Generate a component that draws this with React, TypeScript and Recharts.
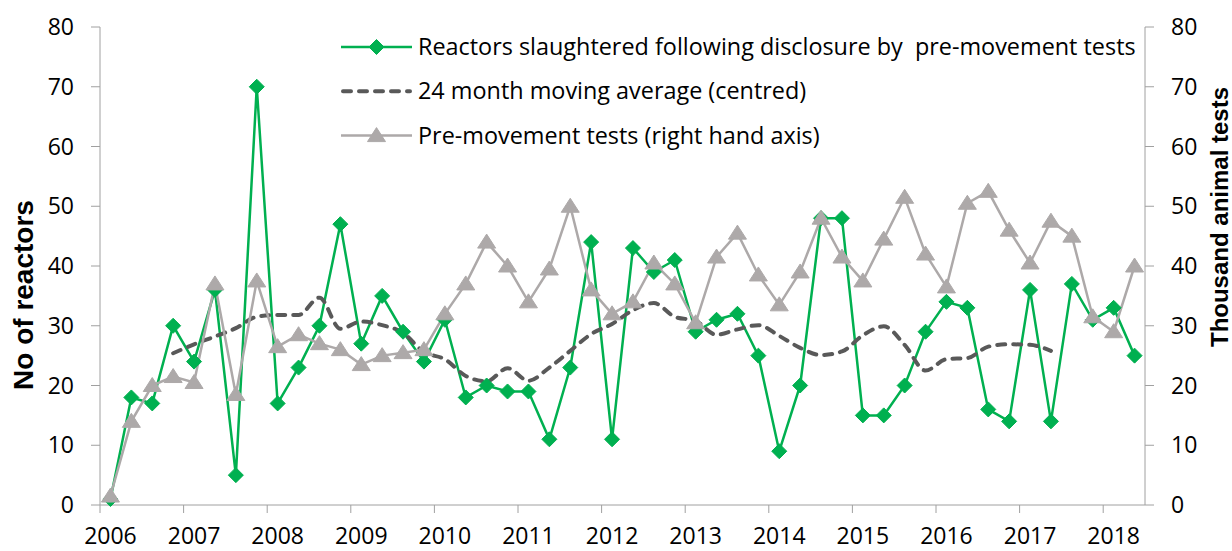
/**
 * App.tsx
 *
 * Reactors slaughtered after pre-movement tests (left axis), its 24 month
 * centred moving average, and pre-movement test volume (right axis).
 * Quarterly points, 2006 – mid 2018.
 */
import React from 'react'
import { LineChart, Line, XAxis, YAxis, Legend } from 'recharts'

document.body.style.margin = '0'

// ── Data ──────────────────────────────────────────────────────────────────────
const years = ['2006', '2007', '2008', '2009', '2010', '2011', '2012',
  '2013', '2014', '2015', '2016', '2017', '2018']

const quarters = years
  .flatMap(y => ['Q1', 'Q2', 'Q3', 'Q4'].map(q => `${y} ${q}`))
  .slice(0, 50)

// No of reactors (left axis)
const reactors = [
  1, 18, 17, 30, 24, 36, 5, 70, 17, 23,
  30, 47, 27, 35, 29, 24, 31, 18, 20, 19,
  19, 11, 23, 44, 11, 43, 39, 41, 29, 31,
  32, 25, 9, 20, 48, 48, 15, 15, 20, 29,
  34, 33, 16, 14, 36, 14, 37, 31, 33, 25,
]

// 24 month moving average (centred), left axis
const movingAvg: (number | null)[] = [
  null, null, null, 25.4, 26.9, 28.2, 29.6, 31.5, 31.8, 31.8,
  34.7, 29.5, 30.7, 30.1, 28.8, 25.6, 24.4, 21.6, 20.7, 22.9,
  20.8, 23.0, 25.8, 28.6, 30.3, 32.6, 33.8, 31.5, 30.8, 28.5,
  29.4, 30.1, 28.3, 26.3, 25.1, 25.7, 28.4, 29.9, 26.8, 22.5,
  24.4, 24.6, 26.5, 26.9, 26.8, 25.8, null, null, null, null,
]

// Pre-movement tests, thousand animal tests (right axis)
const tests = [
  1.5, 14, 20, 21.5, 20.5, 37, 18.5, 37.5, 26.5, 28.5,
  27, 26, 23.5, 25, 25.5, 26, 32, 37, 44, 40,
  34, 39.5, 50, 36, 32, 34, 40.5, 37, 30.5, 41.5,
  45.5, 38.5, 33.5, 39, 48, 41.5, 37.5, 44.5, 51.5, 42,
  36.5, 50.5, 52.5, 46, 40.5, 47.5, 45, 31.5, 29, 40,
]

const yTicks = [0, 10, 20, 30, 40, 50, 60, 70, 80]

const data = quarters.map((q, i) => ({
  idx: i,
  quarter: q,
  reactors: reactors[i],
  avg: movingAvg[i],
  tests: tests[i],
}))

// year boundaries: tick marks sit between quarters, labels on each Q1
const yearBoundaries = years.map((_, i) => i * 4 - 0.5)

// ── Layout / style ────────────────────────────────────────────────────────────
const W = 1232
const H = 551
const PLOT_LEFT = 100
const PLOT_RIGHT = 1145
const HALF_CAT = (PLOT_RIGHT - PLOT_LEFT) / quarters.length / 2

const GREEN = '#00B050'
const GREY = '#ADA9A9'
const DARK = '#595959'
const AXIS = '#A0A0A0'
const FONT = "'Open Sans', sans-serif"
const TITLE_FONT = "'Liberation Sans', Arial, sans-serif"
const FONT_SIZE = 23

const tickStyle = { fill: '#000', fontSize: FONT_SIZE, fontFamily: FONT }

function Diamond({ cx, cy, r = 7.5 }: { cx: number; cy: number; r?: number }) {
  return (
    <polygon
      points={`${cx},${cy - r} ${cx + r},${cy} ${cx},${cy + r} ${cx - r},${cy}`}
      fill={GREEN}
      stroke={GREEN}
    />
  )
}

function Triangle({ cx, cy }: { cx: number; cy: number }) {
  return (
    <polygon
      points={`${cx},${cy - 8} ${cx + 9},${cy + 6} ${cx - 9},${cy + 6}`}
      fill={GREY}
      stroke={GREY}
    />
  )
}

function YearTick({ x, y, payload }: any) {
  const label = years[Math.round((payload.value + 0.5) / 4)]
  return (
    <text x={x + HALF_CAT} y={y} dy="0.71em" textAnchor="middle" {...tickStyle}>
      {label}
    </text>
  )
}

// Recharts clones the label element with its own x/y, so use other names.
// px is the baseline of the rotated text, py its centre.
function AxisTitle({ px, py, size, text }: { px: number; py: number; size: number; text: string }) {
  return (
    <text
      x={px}
      y={py}
      transform={`rotate(-90, ${px}, ${py})`}
      textAnchor="middle"
      fontFamily={TITLE_FONT}
      fontWeight="bold"
      fontSize={size}
      fill="#000"
    >
      {text}
    </text>
  )
}

// ── Legend ────────────────────────────────────────────────────────────────────
const legendRows = [
  { label: 'Reactors slaughtered following disclosure by  pre-movement tests', kind: 'reactors' },
  { label: '24 month moving average (centred)', kind: 'avg' },
  { label: 'Pre-movement tests (right hand axis)', kind: 'tests' },
]

function ChartLegend() {
  const x0 = 341
  const x1 = 412
  const mid = (x0 + x1) / 2
  return (
    <svg width={W} height={170} style={{ display: 'block' }}>
      {legendRows.map((row, i) => {
        const y = 47 + i * 44.3
        return (
          <g key={row.kind}>
            {row.kind === 'reactors' && (
              <>
                <line x1={x0} x2={x1} y1={y} y2={y} stroke={GREEN} strokeWidth={2.5} />
                <Diamond cx={mid} cy={y} />
              </>
            )}
            {row.kind === 'avg' && (
              <line
                x1={x0 + 2} x2={x1 - 2} y1={y} y2={y}
                stroke={DARK} strokeWidth={4}
                strokeDasharray="8 8" strokeLinecap="round"
              />
            )}
            {row.kind === 'tests' && (
              <>
                <line x1={x0} x2={x1} y1={y} y2={y} stroke={GREY} strokeWidth={2.5} />
                <Triangle cx={mid} cy={y} />
              </>
            )}
            <text
              x={418}
              y={y + 8}
              fontFamily={FONT}
              fontSize={23.4}
              fill="#000"
              style={{ whiteSpace: 'pre' }}
            >
              {row.label}
            </text>
          </g>
        )
      })}
    </svg>
  )
}

// ── Chart ─────────────────────────────────────────────────────────────────────
export default function App() {
  return (
    <LineChart
      width={W}
      height={H}
      data={data}
      margin={{ top: 27, right: 0, bottom: 0, left: 0 }}
    >
      <XAxis
        dataKey="idx"
        type="number"
        domain={[-0.5, quarters.length - 0.5]}
        ticks={yearBoundaries}
        allowDecimals
        height={H - 505}
        stroke={AXIS}
        tickSize={8}
        tickMargin={15}
        tick={<YearTick />}
        interval={0}
      />
      <YAxis
        yAxisId="left"
        domain={[0, 80]}
        ticks={yTicks}
        width={PLOT_LEFT}
        stroke={AXIS}
        tickSize={9}
        tickMargin={17}
        tick={tickStyle}
        label={<AxisTitle px={33} py={295} size={28} text="No of reactors" />}
      />
      <YAxis
        yAxisId="right"
        orientation="right"
        domain={[0, 80]}
        ticks={yTicks}
        width={W - PLOT_RIGHT}
        stroke={AXIS}
        tickSize={9}
        tickMargin={17}
        tick={tickStyle}
        label={<AxisTitle px={1228} py={217} size={24} text="Thousand animal tests" />}
      />
      <Legend
        layout="horizontal"
        verticalAlign="middle"
        align="center"
        wrapperStyle={{ left: 0, top: 0, width: W, height: 170 }}
        content={<ChartLegend />}
      />
      <Line
        yAxisId="left"
        dataKey="reactors"
        name="Reactors slaughtered following disclosure by pre-movement tests"
        stroke={GREEN}
        strokeWidth={2.5}
        dot={(p: any) => <Diamond key={`r-${p.index}`} cx={p.cx} cy={p.cy} />}
        activeDot={false}
        isAnimationActive={false}
      />
      <Line
        yAxisId="left"
        dataKey="avg"
        name="24 month moving average (centred)"
        type="monotone"
        stroke={DARK}
        strokeWidth={4}
        strokeDasharray="8 8"
        strokeLinecap="round"
        dot={false}
        activeDot={false}
        isAnimationActive={false}
      />
      <Line
        yAxisId="right"
        dataKey="tests"
        name="Pre-movement tests (right hand axis)"
        stroke={GREY}
        strokeWidth={2.5}
        dot={(p: any) => <Triangle key={`t-${p.index}`} cx={p.cx} cy={p.cy} />}
        activeDot={false}
        isAnimationActive={false}
      />
    </LineChart>
  )
}
